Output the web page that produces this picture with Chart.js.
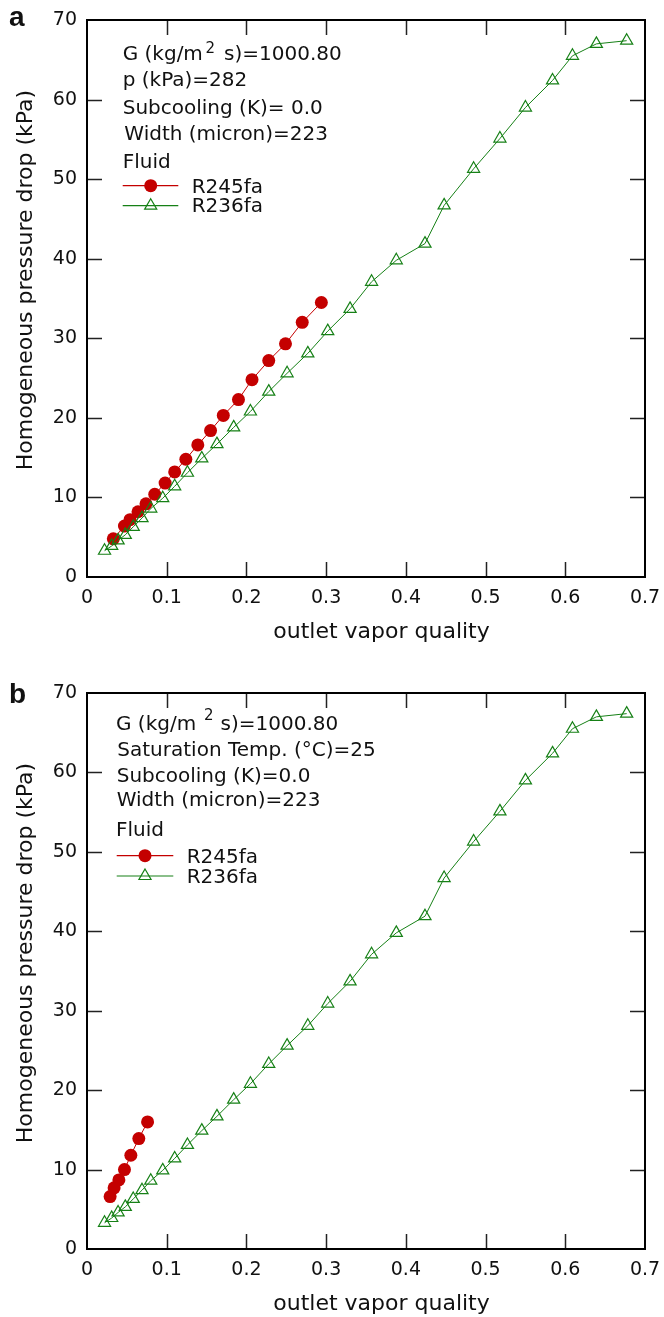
<!DOCTYPE html>
<html>
<head>
<meta charset="utf-8">
<script src="https://cdn.jsdelivr.net/npm/chart.js@4.4.1/dist/chart.umd.min.js"></script>
<style>
  html, body { margin: 0; padding: 0; background: #fff; }
  #wrap { position: relative; width: 664px; height: 1317px; }
  .panel { position: absolute; left: 0; width: 664px; }
</style>
</head>
<body>
<div id="wrap">
  <div class="panel" style="top:0;height:658px"><canvas id="chartA" width="664" height="658"></canvas></div>
  <div class="panel" style="top:658px;height:659px"><canvas id="chartB" width="664" height="659"></canvas></div>
</div>
<script>
// axis ticks
const xTicks = [0, 0.1, 0.2, 0.3, 0.4, 0.5, 0.6, 0.7];
const yTicks = [0, 10, 20, 30, 40, 50, 60, 70];

// R236fa (same in both panels)
const r236faX = [0.022, 0.031, 0.039, 0.048, 0.058, 0.069, 0.080, 0.095, 0.110, 0.126, 0.144, 0.163,
  0.184, 0.205, 0.228, 0.251, 0.277, 0.302, 0.330, 0.357, 0.388, 0.424, 0.448, 0.485, 0.518,
  0.550, 0.584, 0.609, 0.639, 0.677];
const r236faY = [3.3, 3.9, 4.6, 5.3, 6.3, 7.4, 8.6, 9.9, 11.4, 13.1, 14.9, 16.7,
  18.8, 20.8, 23.3, 25.6, 28.1, 30.9, 33.7, 37.1, 39.8, 41.9, 46.7, 51.3, 55.1,
  59.0, 62.4, 65.5, 67.0, 67.4];

// R245fa, panel a
const r245faAX = [0.033, 0.047, 0.054, 0.064, 0.074, 0.085, 0.098, 0.110, 0.124, 0.139, 0.155,
  0.171, 0.190, 0.207, 0.228, 0.249, 0.270, 0.294];
const r245faAY = [4.8, 6.4, 7.2, 8.2, 9.2, 10.4, 11.8, 13.2, 14.8, 16.6, 18.4,
  20.3, 22.3, 24.8, 27.2, 29.3, 32.0, 34.5];

// R245fa, panel b
const r245faBX = [0.029, 0.034, 0.040, 0.047, 0.055, 0.065, 0.076];
const r245faBY = [6.6, 7.7, 8.7, 10.0, 11.8, 13.9, 16.0];

const RED = '#c40000';
const GREEN = '#168016';
const TXT = '#111';
const FONT = '"DejaVu Sans", sans-serif';

function pts(xs, ys) {
  return xs.map((x, i) => ({ x: x, y: ys[i] }));
}

// frame, inward ticks, titles, text block and legend
const decorPlugin = {
  id: 'decor',
  afterDraw(chart, args, opts) {
    const ctx = chart.ctx;
    const a = chart.chartArea;
    const xs = chart.scales.x, ys = chart.scales.y;
    ctx.save();

    // inward ticks on all four sides
    ctx.strokeStyle = '#222';
    ctx.lineWidth = 1.5;
    ctx.beginPath();
    xTicks.slice(1, -1).forEach(v => {
      const px = Math.round(xs.getPixelForValue(v)) + 0.5;
      ctx.moveTo(px, a.bottom); ctx.lineTo(px, a.bottom - 15);
      ctx.moveTo(px, a.top); ctx.lineTo(px, a.top + 15);
    });
    yTicks.slice(1, -1).forEach(v => {
      const py = Math.round(ys.getPixelForValue(v)) + 0.5;
      ctx.moveTo(a.left, py); ctx.lineTo(a.left + 15, py);
      ctx.moveTo(a.right, py); ctx.lineTo(a.right - 15, py);
    });
    ctx.stroke();

    // frame
    ctx.strokeStyle = '#000';
    ctx.lineWidth = 2;
    ctx.strokeRect(a.left, a.top, a.right - a.left, a.bottom - a.top);

    // axis titles
    ctx.fillStyle = TXT;
    ctx.font = '22px ' + FONT;
    ctx.textAlign = 'center';
    ctx.textBaseline = 'alphabetic';
    ctx.fillText('outlet vapor quality', 381.5, a.bottom + 61);
    ctx.save();
    ctx.translate(31.5, a.top + 260);
    ctx.rotate(-Math.PI / 2);
    ctx.fillText('Homogeneous pressure drop (kPa)', 0, 0);
    ctx.restore();

    // panel letter
    ctx.textAlign = 'left';
    ctx.font = 'bold 28px "Liberation Sans", Arial, sans-serif';
    ctx.fillText(opts.letter, 9, opts.letterY);

    // text block
    opts.lines.forEach(l => {
      ctx.font = (l.size || 20) + 'px ' + FONT;
      ctx.fillText(l.text, l.x, l.y);
    });

    // legend
    const lg = opts.legend;
    ctx.font = '20px ' + FONT;
    // R245fa
    ctx.strokeStyle = RED;
    ctx.lineWidth = 1.2;
    ctx.beginPath();
    ctx.moveTo(lg.x0, lg.y1); ctx.lineTo(lg.x1, lg.y1);
    ctx.stroke();
    ctx.fillStyle = RED;
    ctx.beginPath();
    ctx.arc(lg.xm, lg.y1, 6.5, 0, Math.PI * 2);
    ctx.fill();
    // R236fa
    ctx.strokeStyle = GREEN;
    ctx.beginPath();
    ctx.moveTo(lg.x0, lg.y2); ctx.lineTo(lg.x1, lg.y2);
    ctx.stroke();
    ctx.fillStyle = 'rgba(0,0,0,0)';
    Chart.helpers.drawPoint(ctx, { pointStyle: 'triangle', radius: 7, rotation: 0, borderWidth: 1.2 }, lg.xm, lg.y2);
    ctx.fillStyle = TXT;
    ctx.fillText('R245fa', lg.xt, lg.y1 + 7);
    ctx.fillText('R236fa', lg.xt, lg.y2 + 6.5);

    ctx.restore();
  }
};

function makeChart(id, redX, redY, padTop, xHeight, decor) {
  const canvas = document.getElementById(id);
  return new Chart(canvas.getContext('2d'), {
    type: 'scatter',
    data: {
      datasets: [
        {
          label: 'R245fa',
          data: pts(redX, redY),
          showLine: true,
          borderColor: RED,
          borderWidth: 1,
          pointStyle: 'circle',
          pointRadius: 6.5,
          pointBorderWidth: 0,
          pointBackgroundColor: RED,
          order: 1
        },
        {
          label: 'R236fa',
          data: pts(r236faX, r236faY),
          showLine: true,
          borderColor: GREEN,
          borderWidth: 1,
          pointStyle: 'triangle',
          pointRadius: 7,
          pointBorderWidth: 1.2,
          pointBorderColor: GREEN,
          pointBackgroundColor: 'rgba(0,0,0,0)',
          order: 0
        }
      ]
    },
    options: {
      responsive: false,
      animation: false,
      devicePixelRatio: 1,
      layout: { padding: { top: padTop, right: 19, left: 0, bottom: 0 } },
      plugins: {
        legend: { display: false },
        tooltip: { enabled: false },
        decor: decor
      },
      scales: {
        x: {
          type: 'linear',
          min: 0,
          max: 0.7,
          afterBuildTicks: s => { s.ticks = xTicks.map(v => ({ value: v })); },
          afterFit: s => {
            s.height = xHeight;
            s.paddingLeft = 0;
            s.paddingRight = 0;
          },
          grid: { display: false, drawTicks: false },
          border: { display: false },
          ticks: {
            padding: 10,
            color: TXT,
            font: { family: FONT, size: 19 },
            maxRotation: 0,
            callback: v => (v === 0 ? '0' : v.toFixed(1))
          }
        },
        y: {
          type: 'linear',
          min: 0,
          max: 70,
          afterBuildTicks: s => { s.ticks = yTicks.map(v => ({ value: v })); },
          afterFit: s => {
            s.width = 87;
            s.paddingTop = 0;
            s.paddingBottom = 0;
          },
          grid: { display: false, drawTicks: false },
          border: { display: false },
          ticks: {
            padding: 10,
            color: TXT,
            font: { family: FONT, size: 19 },
            callback: v => String(v)
          }
        }
      }
    },
    plugins: [decorPlugin]
  });
}

makeChart('chartA', r245faAX, r245faAY, 20, 81, {
  letter: 'a',
  letterY: 26,
  lines: [
    { text: 'G (kg/m', x: 122.7, y: 60 },
    { text: '2', x: 205.5, y: 52.5, size: 15 },
    { text: 's)=1000.80', x: 224, y: 60 },
    { text: 'p (kPa)=282', x: 122.7, y: 86 },
    { text: 'Subcooling (K)= 0.0', x: 122.7, y: 114 },
    { text: 'Width (micron)=223', x: 124.3, y: 140 },
    { text: 'Fluid', x: 122.7, y: 167.5 }
  ],
  legend: { x0: 122.7, x1: 178.3, xm: 150.7, xt: 191.7, y1: 185.7, y2: 205.7 }
});

makeChart('chartB', r245faBX, r245faBY, 35, 68, {
  letter: 'b',
  letterY: 45.3,
  lines: [
    { text: 'G (kg/m', x: 116, y: 72 },
    { text: '2', x: 204, y: 62, size: 15 },
    { text: 's)=1000.80', x: 220.6, y: 72 },
    { text: 'Saturation Temp. (\u00B0C)=25', x: 117.3, y: 97.7 },
    { text: 'Subcooling (K)=0.0', x: 116.7, y: 123.7 },
    { text: 'Width (micron)=223', x: 116.7, y: 148 },
    { text: 'Fluid', x: 116, y: 177.7 }
  ],
  legend: { x0: 116.7, x1: 173.3, xm: 145, xt: 186.7, y1: 197.7, y2: 218 }
});
</script>
</body>
</html>
